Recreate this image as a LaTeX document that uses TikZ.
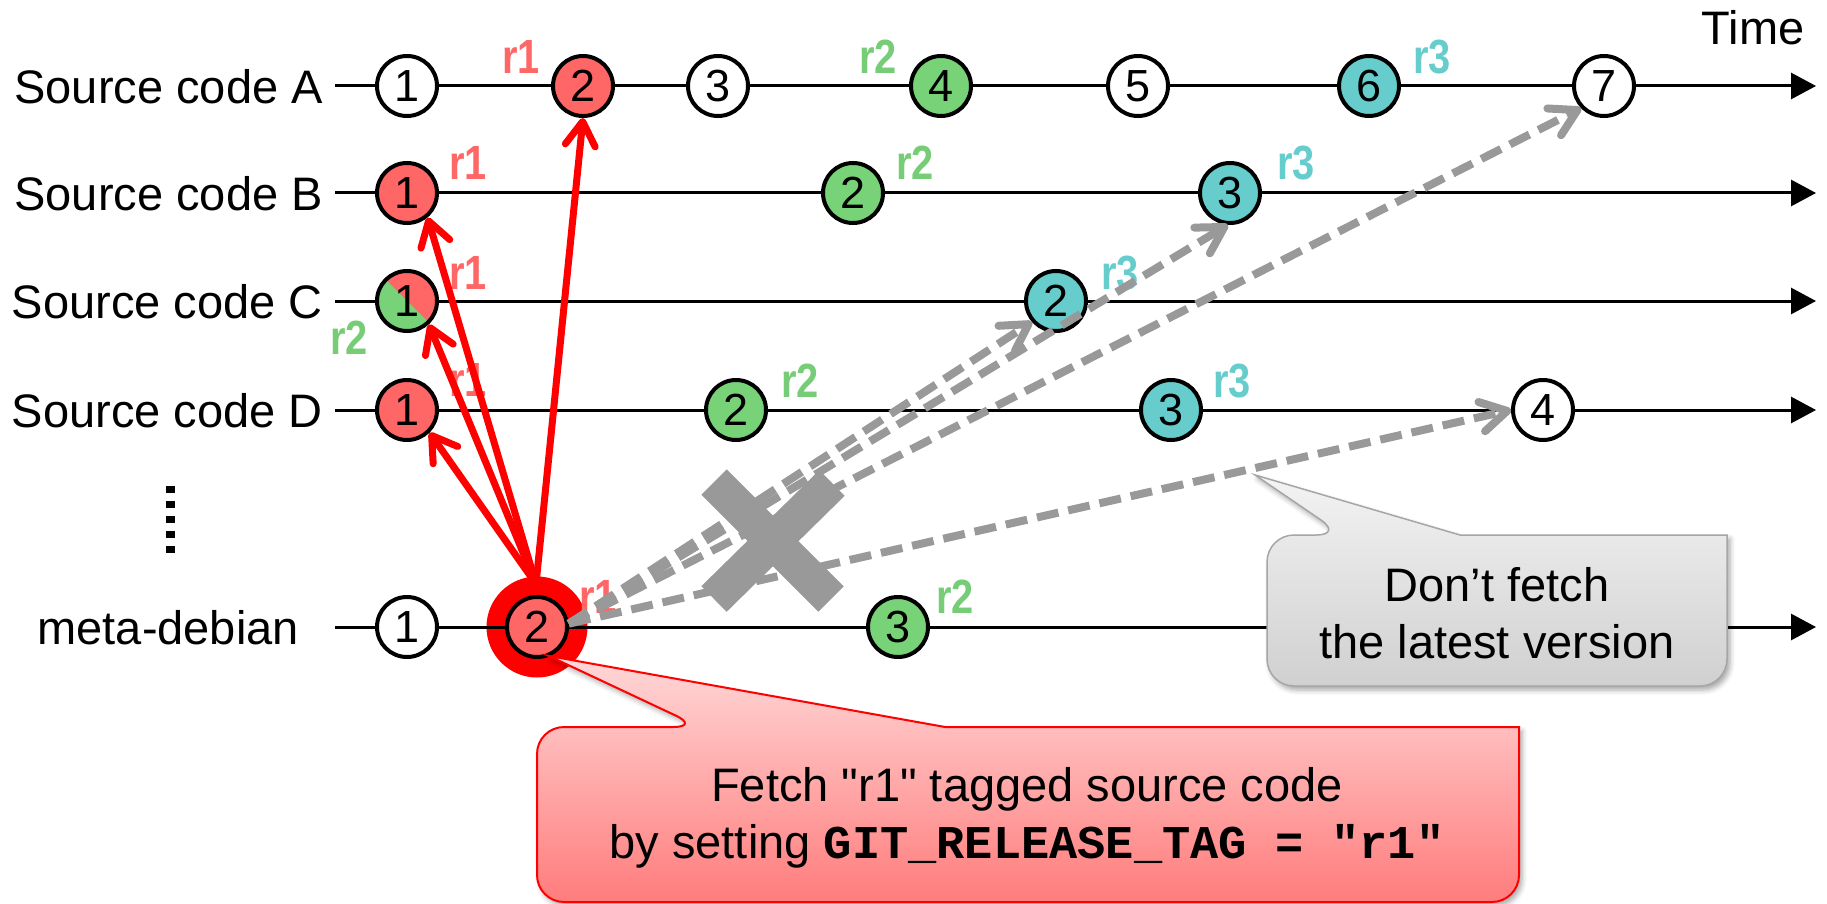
\documentclass[tikz,border=0pt]{standalone}
\usepackage{fontspec}
\setmainfont{Liberation Sans}
\setmonofont{Liberation Mono}
\usetikzlibrary{arrows.meta,shadows.blur}
\definecolor{cred}{HTML}{FF6666}
\definecolor{cgreen}{HTML}{78D278}
\definecolor{cteal}{HTML}{66CCCC}
\definecolor{lred}{HTML}{FF6666}
\definecolor{lgreen}{HTML}{77CC77}
\definecolor{lteal}{HTML}{66CCCC}
\definecolor{xgray}{HTML}{999999}
\definecolor{agray}{HTML}{A6A6A6}
\newcommand\tagtxt[1]{\scalebox{0.83}[1]{#1}}
\begin{document}
\begin{tikzpicture}[x=1pt,y=-1pt,
  every node/.style={inner sep=0pt},
  ver/.style={circle, draw=black, line width=4pt, minimum size=60pt, inner sep=0pt,
    font=\fontsize{45pt}{50pt}\selectfont, fill=white},
  rowline/.style={line width=3pt, -{Triangle[length=25pt,width=26pt]}},
  rowlab/.style={font=\fontsize{47pt}{56pt}\selectfont, anchor=base east},
  lab/.style={font=\fontsize{48pt}{52pt}\selectfont\bfseries},
  redarrow/.style={draw=red, line width=7pt, -{Straight Barb[length=24pt,width=30pt,round]}},
  grayarrow/.style={draw=xgray, line width=8pt, dash pattern=on 22pt off 10pt,
    -{Straight Barb[length=26pt,width=30pt,round]}},
  callshadow/.style={blur shadow={shadow xshift=3pt, shadow yshift=-4pt, shadow blur radius=5pt, shadow opacity=35}},
  graycall/.style={draw=agray, line width=1.5pt, top color={rgb,255:red,243;green,243;blue,243},
    bottom color={rgb,255:red,208;green,208;blue,208}, callshadow},
  redcall/.style={draw=red, line width=2pt, top color={rgb,255:red,255;green,216;blue,216},
    bottom color={rgb,255:red,255;green,124;blue,124}, callshadow},
  calltext/.style={font=\fontsize{47pt}{57pt}\selectfont, align=center}
]
\useasboundingbox (0,0) rectangle (1827,904);

% halo behind meta-debian 2
\node[circle, fill=red, minimum size=101pt] (M2halo) at (537,627) {};

% row lines
\coordinate (As) at (335,86);  \coordinate (Ae) at (1816,86);
\coordinate (Bs) at (335,193); \coordinate (Be) at (1816,193);
\coordinate (Cs) at (335,301); \coordinate (Ce) at (1816,301);
\coordinate (Ds) at (335,410); \coordinate (De) at (1816,410);
\coordinate (Ms) at (335,627); \coordinate (Me) at (1816,627);
\draw[rowline] (As) -- (Ae);
\draw[rowline] (Bs) -- (Be);
\draw[rowline] (Cs) -- (Ce);
\draw[rowline] (Ds) -- (De);
\draw[rowline] (Ms) -- (Me);

% row labels
\node[rowlab] (tA) at (323,103.5) {Source code A};
\node[rowlab] (tB) at (323,210.5) {Source code B};
\node[rowlab] (tC) at (323,318.5) {Source code C};
\node[rowlab] (tD) at (323,427.5) {Source code D};
\node[rowlab] (tM) at (299,644.5) {meta-debian};
\node[font=\fontsize{47pt}{56pt}\selectfont, anchor=base] (time) at (1753,45) {Time};

% vertical dots
\draw[line width=9pt, dash pattern=on 7pt off 8pt] (170,486) -- (170,556);

% tag labels
\node[lab, text=lred] (gA2) at (521,57) {\tagtxt{r1}};
\node[lab, text=lgreen] (gA4) at (878,57) {\tagtxt{r2}};
\node[lab, text=lteal] (gA6) at (1432,57) {\tagtxt{r3}};
\node[lab, text=lred] (gB1) at (468,163) {\tagtxt{r1}};
\node[lab, text=lgreen] (gB2) at (915,163) {\tagtxt{r2}};
\node[lab, text=lteal] (gB3) at (1296,163) {\tagtxt{r3}};
\node[lab, text=lred] (gC1) at (468,273) {\tagtxt{r1}};
\node[lab, text=lgreen] (gC1b) at (349,338) {\tagtxt{r2}};
\node[lab, text=lteal] (gC2) at (1120,273) {\tagtxt{r3}};
\node[lab, text=lred] (gD1) at (468,380) {\tagtxt{r1}};
\node[lab, text=lgreen] (gD2) at (800,381) {\tagtxt{r2}};
\node[lab, text=lteal] (gD3) at (1232,381) {\tagtxt{r3}};
\node[lab, text=lred] (gM2) at (598,597) {\tagtxt{r1}};
\node[lab, text=lgreen] (gM3) at (955,597) {\tagtxt{r2}};

% version circles
\node[ver] (A1) at (407,86) {1};
\node[ver, fill=cred] (A2) at (583,86) {2};
\node[ver] (A3) at (718,86) {3};
\node[ver, fill=cgreen] (A4) at (941,86) {4};
\node[ver] (A5) at (1138,86) {5};
\node[ver, fill=cteal] (A6) at (1369,86) {6};
\node[ver] (A7) at (1604,86) {7};

\node[ver, fill=cred] (B1) at (407,193) {1};
\node[ver, fill=cgreen] (B2) at (853,193) {2};
\node[ver, fill=cteal] (B3) at (1230,193) {3};

\node[ver, fill=cred, path picture={\fill[cgreen] (path picture bounding box.north west) --
   (path picture bounding box.south east) -- (path picture bounding box.south west) -- cycle;}]
   (C1) at (407,301) {1};
\node[ver, fill=cteal] (C2) at (1056,301) {2};

\node[ver, fill=cred] (D1) at (407,410) {1};
\node[ver, fill=cgreen] (D2) at (736,410) {2};
\node[ver, fill=cteal] (D3) at (1171,410) {3};
\node[ver] (D4) at (1543,410) {4};

\node[ver] (M1) at (407,627) {1};
\node[ver, fill=cred] (M2) at (537,627) {2};
\node[ver, fill=cgreen] (M3) at (898,627) {3};

% red fetch arrows
\coordinate (rs) at (536,584);
\draw[redarrow] (rs) -- (A2.-90);
\draw[redarrow] (rs) -- (B1.-50);
\draw[redarrow] (rs) -- (C1.-47);
\draw[redarrow] (rs) -- (D1.-45);

% gray dashed arrows
\draw[grayarrow] (M2.6) -- (C2.221);
\draw[grayarrow] (M2.6) -- (B3.-94);
\draw[grayarrow] (M2.6) -- (A7.224);
\draw[grayarrow] (M2.6) -- (D4.west);

% cross
\draw[xgray, line width=36pt] (714,482) -- (831,599);
\draw[xgray, line width=36pt] (832,483) -- (714,599);

% gray callout
\path[graycall] (1267,610) [rounded corners=27pt] -- (1267,535) -- (1343,535) [sharp corners]
  -- (1255,475) -- (1460,535) -- (1727,535) [rounded corners=27pt] -- (1727,686) -- (1267,686) -- cycle;
\node[calltext, anchor=base] (dont) at (1497,658) {Don’t fetch\\the latest version};

% red callout
\path[redcall] (537,815) [rounded corners=27pt] -- (537,727) -- (700,727) [sharp corners]
  -- (549,656) -- (945,727) -- (1519,727) [rounded corners=27pt] -- (1519,902) -- (537,902) -- cycle;
\node[calltext, anchor=base] (fetch) at (1027,858) {Fetch \textquotedbl r1\textquotedbl{} tagged source code\\by setting {\ttfamily\bfseries GIT\_RELEASE\_TAG = "r1"}};
\end{tikzpicture}
\end{document}
